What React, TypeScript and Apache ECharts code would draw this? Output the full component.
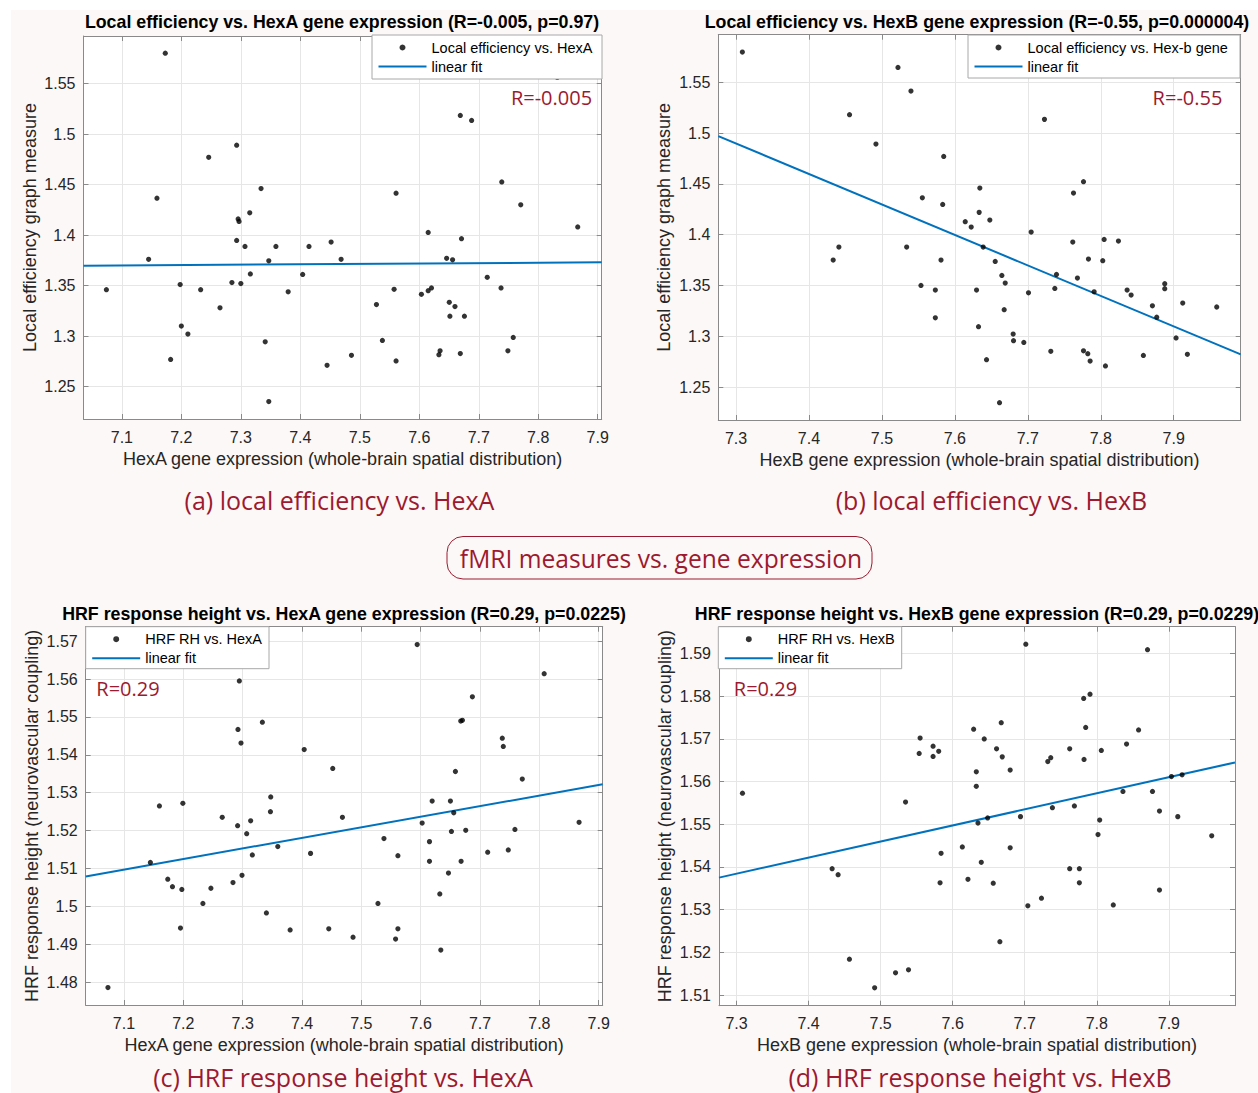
import { useEffect, useRef } from 'react';
import * as echarts from 'echarts';

// ---------------- data ----------------
const LOCAL_EFF_VS_HEXA: [number, number][] = [
  [7.074, 1.346], [7.145, 1.376], [7.159, 1.4365], [7.173, 1.58], [7.182, 1.277], [7.198, 1.351],
  [7.2, 1.31], [7.211, 1.302], [7.2325, 1.346], [7.246, 1.477], [7.265, 1.328], [7.285, 1.353],
  [7.293, 1.489], [7.2955, 1.416], [7.297, 1.4135], [7.293, 1.3947], [7.3, 1.352], [7.307, 1.3888],
  [7.315, 1.422], [7.316, 1.3615], [7.334, 1.446], [7.341, 1.2944], [7.347, 1.3745], [7.347, 1.2352],
  [7.359, 1.3888], [7.3796, 1.3438], [7.404, 1.361], [7.4146, 1.3888],
  [7.4518, 1.3931], [7.4686, 1.376], [7.445, 1.2711], [7.486, 1.281], [7.561, 1.4414], [7.528, 1.3312],
  [7.5577, 1.3463], [7.538, 1.2957], [7.561, 1.2754], [7.615, 1.4026], [7.6036, 1.3414], [7.615, 1.345],
  [7.6205, 1.3477], [7.633, 1.2817], [7.635, 1.2855], [7.646, 1.377], [7.656, 1.3755], [7.6505, 1.3335],
  [7.66, 1.3293], [7.6515, 1.3197], [7.6759, 1.3197], [7.671, 1.3964], [7.669, 1.5184], [7.688, 1.5134],
  [7.669, 1.2827], [7.7143, 1.3582], [7.7375, 1.3477], [7.7387, 1.4526], [7.7706, 1.43], [7.758, 1.2987],
  [7.749, 1.2855], [7.8664, 1.4081], [7.832, 1.556],
];

const LOCAL_EFF_VS_HEXB: [number, number][] = [
  [7.3087, 1.5799], [7.522, 1.5648], [7.5398, 1.5415], [7.4556, 1.5182], [7.4918, 1.4893], [7.5847, 1.4771],
  [7.5554, 1.4364], [7.5833, 1.4298], [7.4332, 1.375], [7.441, 1.3878], [7.5339, 1.3878], [7.581, 1.375],
  [7.5535, 1.35], [7.5732, 1.3455], [7.5732, 1.3182],
  [7.7228, 1.5136], [7.6342, 1.4459], [7.6333, 1.422], [7.6142, 1.4128], [7.6224, 1.4075], [7.6479, 1.4144],
  [7.6388, 1.3878], [7.7046, 1.4026], [7.6553, 1.3737], [7.6644, 1.3599], [7.669, 1.3524], [7.6297, 1.3455],
  [7.6676, 1.3261], [7.6324, 1.3094], [7.6799, 1.3021], [7.6804, 1.2956], [7.6945, 1.2939], [7.6434, 1.2769],
  [7.7009, 1.3428], [7.6612, 1.2345], [7.7393, 1.3609], [7.737, 1.3471], [7.7315, 1.2851], [7.7626, 1.441],
  [7.7763, 1.4522], [7.7616, 1.3928], [7.768, 1.3573], [7.7831, 1.376], [7.7909, 1.3438], [7.7763, 1.2857],
  [7.7822, 1.2828], [7.7854, 1.2756], [7.8027, 1.3744], [7.8046, 1.3954], [7.8242, 1.3937], [7.8064, 1.2707],
  [7.8361, 1.3455], [7.8416, 1.3406], [7.8584, 1.2811], [7.8708, 1.33], [7.8767, 1.3188], [7.8877, 1.3517],
  [7.8877, 1.3468], [7.9123, 1.3327], [7.9032, 1.2983], [7.9187, 1.2822], [7.9589, 1.3288],
];

const HRF_RH_VS_HEXA: [number, number][] = [
  [7.073, 1.4786], [7.1445, 1.5116], [7.1597, 1.5265], [7.1992, 1.5272], [7.1738, 1.5072], [7.1817, 1.5052],
  [7.1975, 1.5045], [7.1952, 1.4943], [7.233, 1.5008], [7.2465, 1.5048], [7.2656, 1.5235], [7.2837, 1.5063],
  [7.2944, 1.5595], [7.2921, 1.5467], [7.2972, 1.5431], [7.3332, 1.5486], [7.2915, 1.5213], [7.3068, 1.5192],
  [7.3135, 1.5226], [7.3163, 1.5136], [7.2989, 1.5082], [7.3473, 1.5289], [7.3468, 1.525], [7.3592, 1.5158],
  [7.34, 1.4983], [7.38, 1.4938], [7.4037, 1.5414], [7.4144, 1.514],
  [7.4518, 1.5364], [7.4681, 1.5235], [7.4451, 1.4941], [7.486, 1.4919], [7.5381, 1.5179], [7.5616, 1.5134],
  [7.528, 1.5008], [7.5616, 1.4941], [7.5577, 1.4914], [7.5941, 1.5691], [7.6025, 1.522], [7.6193, 1.5278],
  [7.6148, 1.5171], [7.6148, 1.5119], [7.6322, 1.5033], [7.6339, 1.4885], [7.6468, 1.5088], [7.6501, 1.5278],
  [7.6557, 1.5247], [7.6518, 1.5198], [7.6585, 1.5356], [7.6675, 1.5489], [7.6703, 1.5491], [7.6681, 1.5119],
  [7.6759, 1.5201], [7.6871, 1.5553], [7.7129, 1.5143], [7.7375, 1.5444], [7.7392, 1.5422], [7.7476, 1.5149],
  [7.7588, 1.5203], [7.7712, 1.5336], [7.8081, 1.5614], [7.8669, 1.5222],
];

const HRF_RH_VS_HEXB: [number, number][] = [
  [7.3083, 1.5573], [7.4327, 1.5396], [7.441, 1.5382], [7.4567, 1.5184], [7.4917, 1.5117], [7.5207, 1.5152],
  [7.5387, 1.5159], [7.5346, 1.5552], [7.5548, 1.5702], [7.5535, 1.5666], [7.5728, 1.5683], [7.5728, 1.5659],
  [7.5806, 1.5671], [7.5839, 1.5432], [7.5825, 1.5363],
  [7.7015, 1.5922], [7.8704, 1.5909], [7.7818, 1.5795], [7.7906, 1.5805], [7.6291, 1.5723], [7.6674, 1.5738],
  [7.6438, 1.57], [7.7846, 1.5727], [7.858, 1.5721], [7.6609, 1.5677], [7.6688, 1.5658], [7.6798, 1.5627],
  [7.6328, 1.5623], [7.6328, 1.5589], [7.7624, 1.5677], [7.7823, 1.5652], [7.8063, 1.5673], [7.732, 1.5647],
  [7.7361, 1.5656], [7.8413, 1.5688], [7.6351, 1.5503], [7.6485, 1.5515], [7.6941, 1.5518], [7.7384, 1.5539],
  [7.7689, 1.5543], [7.8363, 1.5577], [7.8773, 1.5577], [7.9036, 1.5612], [7.9184, 1.5616], [7.887, 1.5531],
  [7.9124, 1.5518], [7.804, 1.551], [7.8017, 1.5476], [7.9595, 1.5473], [7.6134, 1.5447], [7.6798, 1.5445],
  [7.6397, 1.5411], [7.6212, 1.5371], [7.6563, 1.5362], [7.7624, 1.5396], [7.7758, 1.5396], [7.7758, 1.5363],
  [7.887, 1.5346], [7.7043, 1.5309], [7.7232, 1.5327], [7.8229, 1.5311], [7.6655, 1.5225],
];

// linear fits: [slope, intercept]
const FIT_LOCAL_EFF_HEXA = [0.0038, 1.343];
const FIT_LOCAL_EFF_HEXB = [-0.3002, 3.6813];
const FIT_HRF_HEXA = [0.0279, 1.31163];
const FIT_HRF_HEXB = [0.0377, 1.26321];

// axis limits and tick steps
const X_LIM_HEXA = [7.0355, 7.9067];
const X_LIM_HEXB = [7.2757, 7.9918];
const Y_LIM_LOCAL_EFF_A = [1.218, 1.597];
const Y_LIM_LOCAL_EFF_B = [1.2175, 1.597];
const Y_LIM_HRF_A = [1.474, 1.5738];
const Y_LIM_HRF_B = [1.5075, 1.5963];
const X_STEPS = [0.1, 0.1, 0.1, 0.1];
const Y_STEPS = [0.05, 0.05, 0.01, 0.01];

// texts
const TITLES = [
  'Local efficiency vs. HexA gene expression (R=-0.005, p=0.97)',
  'Local efficiency vs. HexB gene expression (R=-0.55, p=0.000004)',
  'HRF response height vs. HexA gene expression (R=0.29, p=0.0225)',
  'HRF response height vs. HexB gene expression (R=0.29, p=0.0229)',
];
const X_NAMES = [
  'HexA gene expression (whole-brain spatial distribution)',
  'HexB gene expression (whole-brain spatial distribution)',
  'HexA gene expression (whole-brain spatial distribution)',
  'HexB gene expression (whole-brain spatial distribution)',
];
const Y_NAMES = [
  'Local efficiency graph measure',
  'Local efficiency graph measure',
  'HRF response height (neurovascular coupling)',
  'HRF response height (neurovascular coupling)',
];
const SCATTER_NAMES = [
  'Local efficiency vs. HexA',
  'Local efficiency vs. Hex-b gene',
  'HRF RH vs. HexA',
  'HRF RH vs. HexB',
];
const FIT_NAME = 'linear fit';
const R_LABELS = ['R=-0.005', 'R=-0.55', 'R=0.29', 'R=0.29'];
const CAPTIONS = [
  '(a) local efficiency vs. HexA',
  '(b) local efficiency vs. HexB',
  '(c) HRF response height vs. HexA',
  '(d) HRF response height vs. HexB',
];
const CENTER_LABEL = 'fMRI measures vs. gene expression';

// ---------------- layout ----------------
const GRIDS = [
  { left: 83.5, top: 36, width: 518.2, height: 383 },
  { left: 718.3, top: 34.7, width: 522.4, height: 385.3 },
  { left: 85.7, top: 626.7, width: 517, height: 378.3 },
  { left: 719, top: 626.7, width: 516, height: 379 },
];
const LEGEND_BOXES = [
  { x: 372, y: 35, w: 230, h: 44 },
  { x: 968, y: 35, w: 272, h: 43 },
  { x: 85.7, y: 626.7, w: 183.3, h: 42 },
  { x: 718.3, y: 626.7, w: 183.4, h: 42 },
];
const TITLE_POS = [[342, 22], [977, 22], [344, 614], [977, 614]];
const R_POS = [[551.5, 97], [1187.5, 97], [128, 688], [765.5, 688]];
const CAPTION_POS = [[339.5, 500], [991.5, 500], [343, 1077], [980, 1077]];

const RED = '#9c1a2f';
const AX = '#8a8a8a';
const TXT = '#262626';
const SANS = '"Liberation Sans", Arial, Helvetica, sans-serif';
const CAL = '"Open Sans", "Noto Sans", sans-serif';
const LINE_ICON = 'path://M0,0L48,0L48,2L0,2Z';

const tickFmt = (step: number) => (v: number) => {
  const k = Math.round(v / step);
  if (Math.abs(v - k * step) > step * 0.02) return '';
  return String(parseFloat((k * step).toFixed(4)));
};

export default function App() {
  const ref = useRef<HTMLDivElement>(null);
  useEffect(() => {
    document.body.style.margin = '0';
    if (!ref.current) return;
    const chart = echarts.init(ref.current, undefined, { renderer: 'svg' });

    const datasets = [LOCAL_EFF_VS_HEXA, LOCAL_EFF_VS_HEXB, HRF_RH_VS_HEXA, HRF_RH_VS_HEXB];
    const fits = [FIT_LOCAL_EFF_HEXA, FIT_LOCAL_EFF_HEXB, FIT_HRF_HEXA, FIT_HRF_HEXB];
    const xLims = [X_LIM_HEXA, X_LIM_HEXB, X_LIM_HEXA, X_LIM_HEXB];
    const yLims = [Y_LIM_LOCAL_EFF_A, Y_LIM_LOCAL_EFF_B, Y_LIM_HRF_A, Y_LIM_HRF_B];

    const xAxis: any[] = [];
    const yAxis: any[] = [];
    const series: any[] = [];
    const legend: any[] = [];
    const graphic: any[] = [
      { type: 'rect', shape: { x: 0, y: 0, width: 1258, height: 10 }, style: { fill: '#ffffff' }, silent: true },
      { type: 'rect', shape: { x: 0, y: 0, width: 11, height: 1093 }, style: { fill: '#ffffff' }, silent: true },
    ];

    for (let i = 0; i < 4; i++) {
      const xs = X_STEPS[i];
      const ys = Y_STEPS[i];
      const common = (lim: number[], step: number) => ({
        type: 'value', gridIndex: i, min: lim[0], max: lim[1],
        minInterval: step, maxInterval: step, splitNumber: 8, scale: true,
      });
      xAxis.push({
        ...common(xLims[i], xs), position: 'bottom',
        axisLine: { show: true, lineStyle: { color: AX, width: 1 } },
        axisTick: { show: true, inside: true, length: 5, lineStyle: { color: AX } },
        axisLabel: { show: true, fontSize: 16, color: TXT, fontFamily: SANS, margin: 10, formatter: tickFmt(xs), hideOverlap: false },
        splitLine: { show: true, lineStyle: { color: '#e6e6e6', width: 1 } },
        name: X_NAMES[i], nameLocation: 'middle', nameGap: 30.5,
        nameTextStyle: { fontSize: 18, color: TXT, fontFamily: SANS },
      });
      xAxis.push({
        ...common(xLims[i], xs), position: 'top',
        axisLine: { show: true, lineStyle: { color: AX, width: 1 } },
        axisTick: { show: true, inside: true, length: 5, lineStyle: { color: AX } },
        axisLabel: { show: false }, splitLine: { show: false },
      });
      yAxis.push({
        ...common(yLims[i], ys), position: 'left',
        axisLine: { show: true, lineStyle: { color: AX, width: 1 } },
        axisTick: { show: true, inside: true, length: 5, lineStyle: { color: AX } },
        axisLabel: { show: true, fontSize: 16, color: TXT, fontFamily: SANS, margin: 8, formatter: tickFmt(ys), hideOverlap: false },
        splitLine: { show: true, lineStyle: { color: '#e6e6e6', width: 1 } },
        name: Y_NAMES[i], nameLocation: 'middle', nameGap: 45, nameRotate: 90,
        nameTextStyle: { fontSize: 18, color: TXT, fontFamily: SANS },
      });
      yAxis.push({
        ...common(yLims[i], ys), position: 'right',
        axisLine: { show: true, lineStyle: { color: AX, width: 1 } },
        axisTick: { show: true, inside: true, length: 5, lineStyle: { color: AX } },
        axisLabel: { show: false }, splitLine: { show: false },
      });

      series.push({
        type: 'scatter', name: SCATTER_NAMES[i], xAxisIndex: 2 * i, yAxisIndex: 2 * i,
        data: datasets[i], symbol: 'circle', symbolSize: 5.2,
        itemStyle: { color: '#000000' }, z: 2, silent: true,
      });
      const [m, b] = fits[i];
      const x0 = xLims[i][0];
      const x1 = xLims[i][1];
      series.push({
        type: 'line', name: FIT_NAME, xAxisIndex: 2 * i, yAxisIndex: 2 * i,
        data: [[x0, b + m * x0], [x1, b + m * x1]], symbol: 'none', showSymbol: false,
        lineStyle: { color: '#0072BD', width: 2 }, itemStyle: { color: '#0072BD' }, z: 2, silent: true,
      });

      const lb = LEGEND_BOXES[i];
      graphic.push({
        type: 'rect', z: 3, silent: true,
        shape: { x: lb.x, y: lb.y, width: lb.w, height: lb.h },
        style: { fill: '#ffffff', stroke: '#a8a8a8', lineWidth: 1 },
      });
      legend.push({
        left: lb.x, top: lb.y, orient: 'vertical', padding: [5, 6, 5, 6.5],
        itemWidth: 48, itemHeight: 6, itemGap: 4, selectedMode: false, z: 5,
        data: [
          { name: SCATTER_NAMES[i], icon: 'circle' },
          { name: FIT_NAME, icon: LINE_ICON, itemStyle: { color: '#0072BD' } },
        ],
        textStyle: { fontSize: 14.5, color: '#000000', fontFamily: SANS },
      });

      graphic.push({
        type: 'text', x: TITLE_POS[i][0], y: TITLE_POS[i][1], z: 6, silent: true,
        style: { text: TITLES[i], align: 'center', verticalAlign: 'middle', fontFamily: SANS, fontWeight: 'bold', fontSize: 17.8, fill: '#000000' },
      });
      graphic.push({
        type: 'text', x: R_POS[i][0], y: R_POS[i][1], z: 6, silent: true,
        style: { text: R_LABELS[i], align: 'center', verticalAlign: 'middle', fontFamily: CAL, fontSize: 20, fill: RED },
      });
      graphic.push({
        type: 'text', x: CAPTION_POS[i][0], y: CAPTION_POS[i][1], z: 6, silent: true,
        style: { text: CAPTIONS[i], align: 'center', verticalAlign: 'middle', fontFamily: CAL, fontSize: 25, fill: RED },
      });
    }

    graphic.push({
      type: 'rect', z: 6, silent: true,
      shape: { x: 447, y: 536.5, width: 425, height: 42.5, r: 16 },
      style: { fill: 'transparent', stroke: RED, lineWidth: 1 },
    });
    graphic.push({
      type: 'text', x: 661, y: 558, z: 6, silent: true,
      style: { text: CENTER_LABEL, align: 'center', verticalAlign: 'middle', fontFamily: CAL, fontSize: 24.6, fill: RED },
    });

    chart.setOption({
      animation: false,
      backgroundColor: '#fcf8f7',
      grid: GRIDS.map((g) => ({ ...g, show: true, backgroundColor: '#ffffff', borderWidth: 0, containLabel: false })),
      xAxis,
      yAxis,
      legend,
      series,
      graphic,
    });
    return () => chart.dispose();
  }, []);
  return <div ref={ref} style={{ width: 1258, height: 1093 }} />;
}
